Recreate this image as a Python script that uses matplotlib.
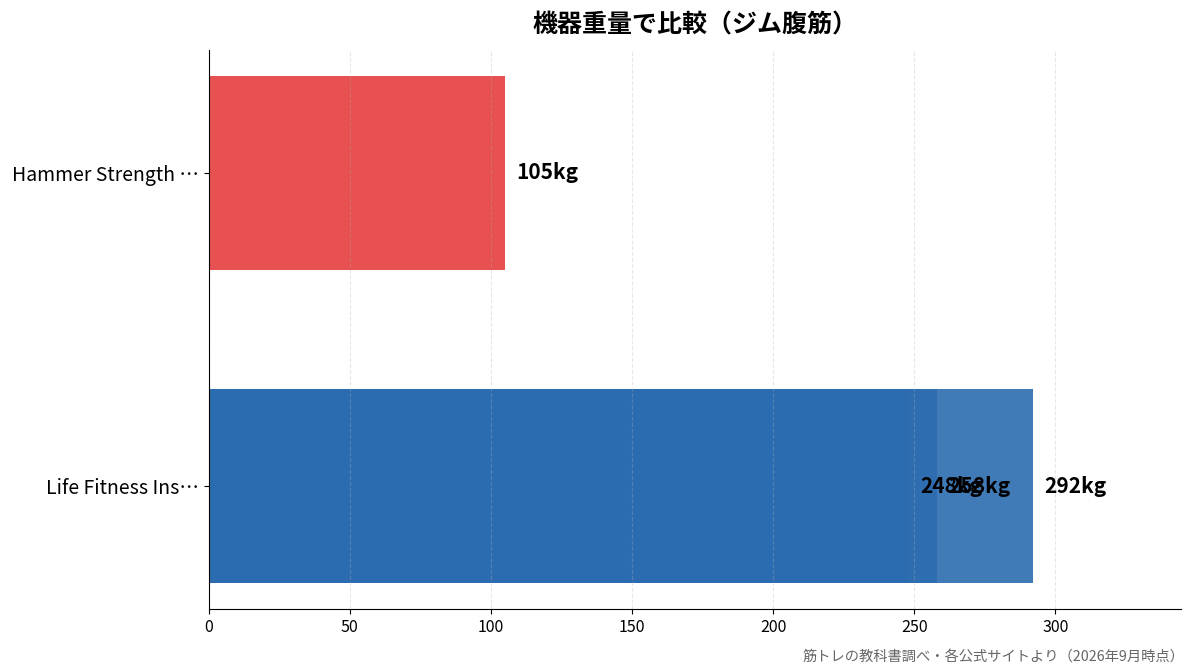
import matplotlib
matplotlib.use("Agg")
import matplotlib.pyplot as plt

plt.rcParams['font.family'] = ['Noto Sans CJK JP', 'DejaVu Sans']

# data
labels = ["Life Fitness Ins\u22ef", "Hammer Strength \u22ef"]
life_weights = [292, 258, 248]   # several models drawn on the same row
hammer_weight = 105
title = "機器重量で比較（ジム腹筋）"
source = "筋トレの教科書調べ・各公式サイトより（2026年9月時点）"

blue = "#2B6CB0"
red = "#E53E3E"

fig, ax = plt.subplots(figsize=(11.93, 6.72), dpi=100)

for w in life_weights:
    ax.barh(0, w, height=0.62, color=blue, alpha=0.9)
    ax.text(w + 4, 0, f"{w}kg", va="center", ha="left", fontsize=15, fontweight="bold")

ax.barh(1, hammer_weight, height=0.62, color=red, alpha=0.9)
ax.text(hammer_weight + 4, 1, f"{hammer_weight}kg", va="center", ha="left",
        fontsize=15, fontweight="bold")

ax.set_yticks([0, 1])
ax.set_yticklabels(labels, fontsize=14)
ax.tick_params(axis="x", labelsize=11.5)
ax.set_xlim(0, max(life_weights) * 1.18)

ax.grid(axis="x", linestyle="--", alpha=0.3)
ax.spines["top"].set_visible(False)
ax.spines["right"].set_visible(False)

ax.set_title(title, fontsize=18, fontweight="bold", pad=13)
fig.text(0.993, 0.012, source, ha="right", va="bottom", fontsize=10.3, color="#666666")

plt.subplots_adjust(left=0.175, right=0.99, top=0.925, bottom=0.094)
plt.savefig("out.png", dpi=100)
